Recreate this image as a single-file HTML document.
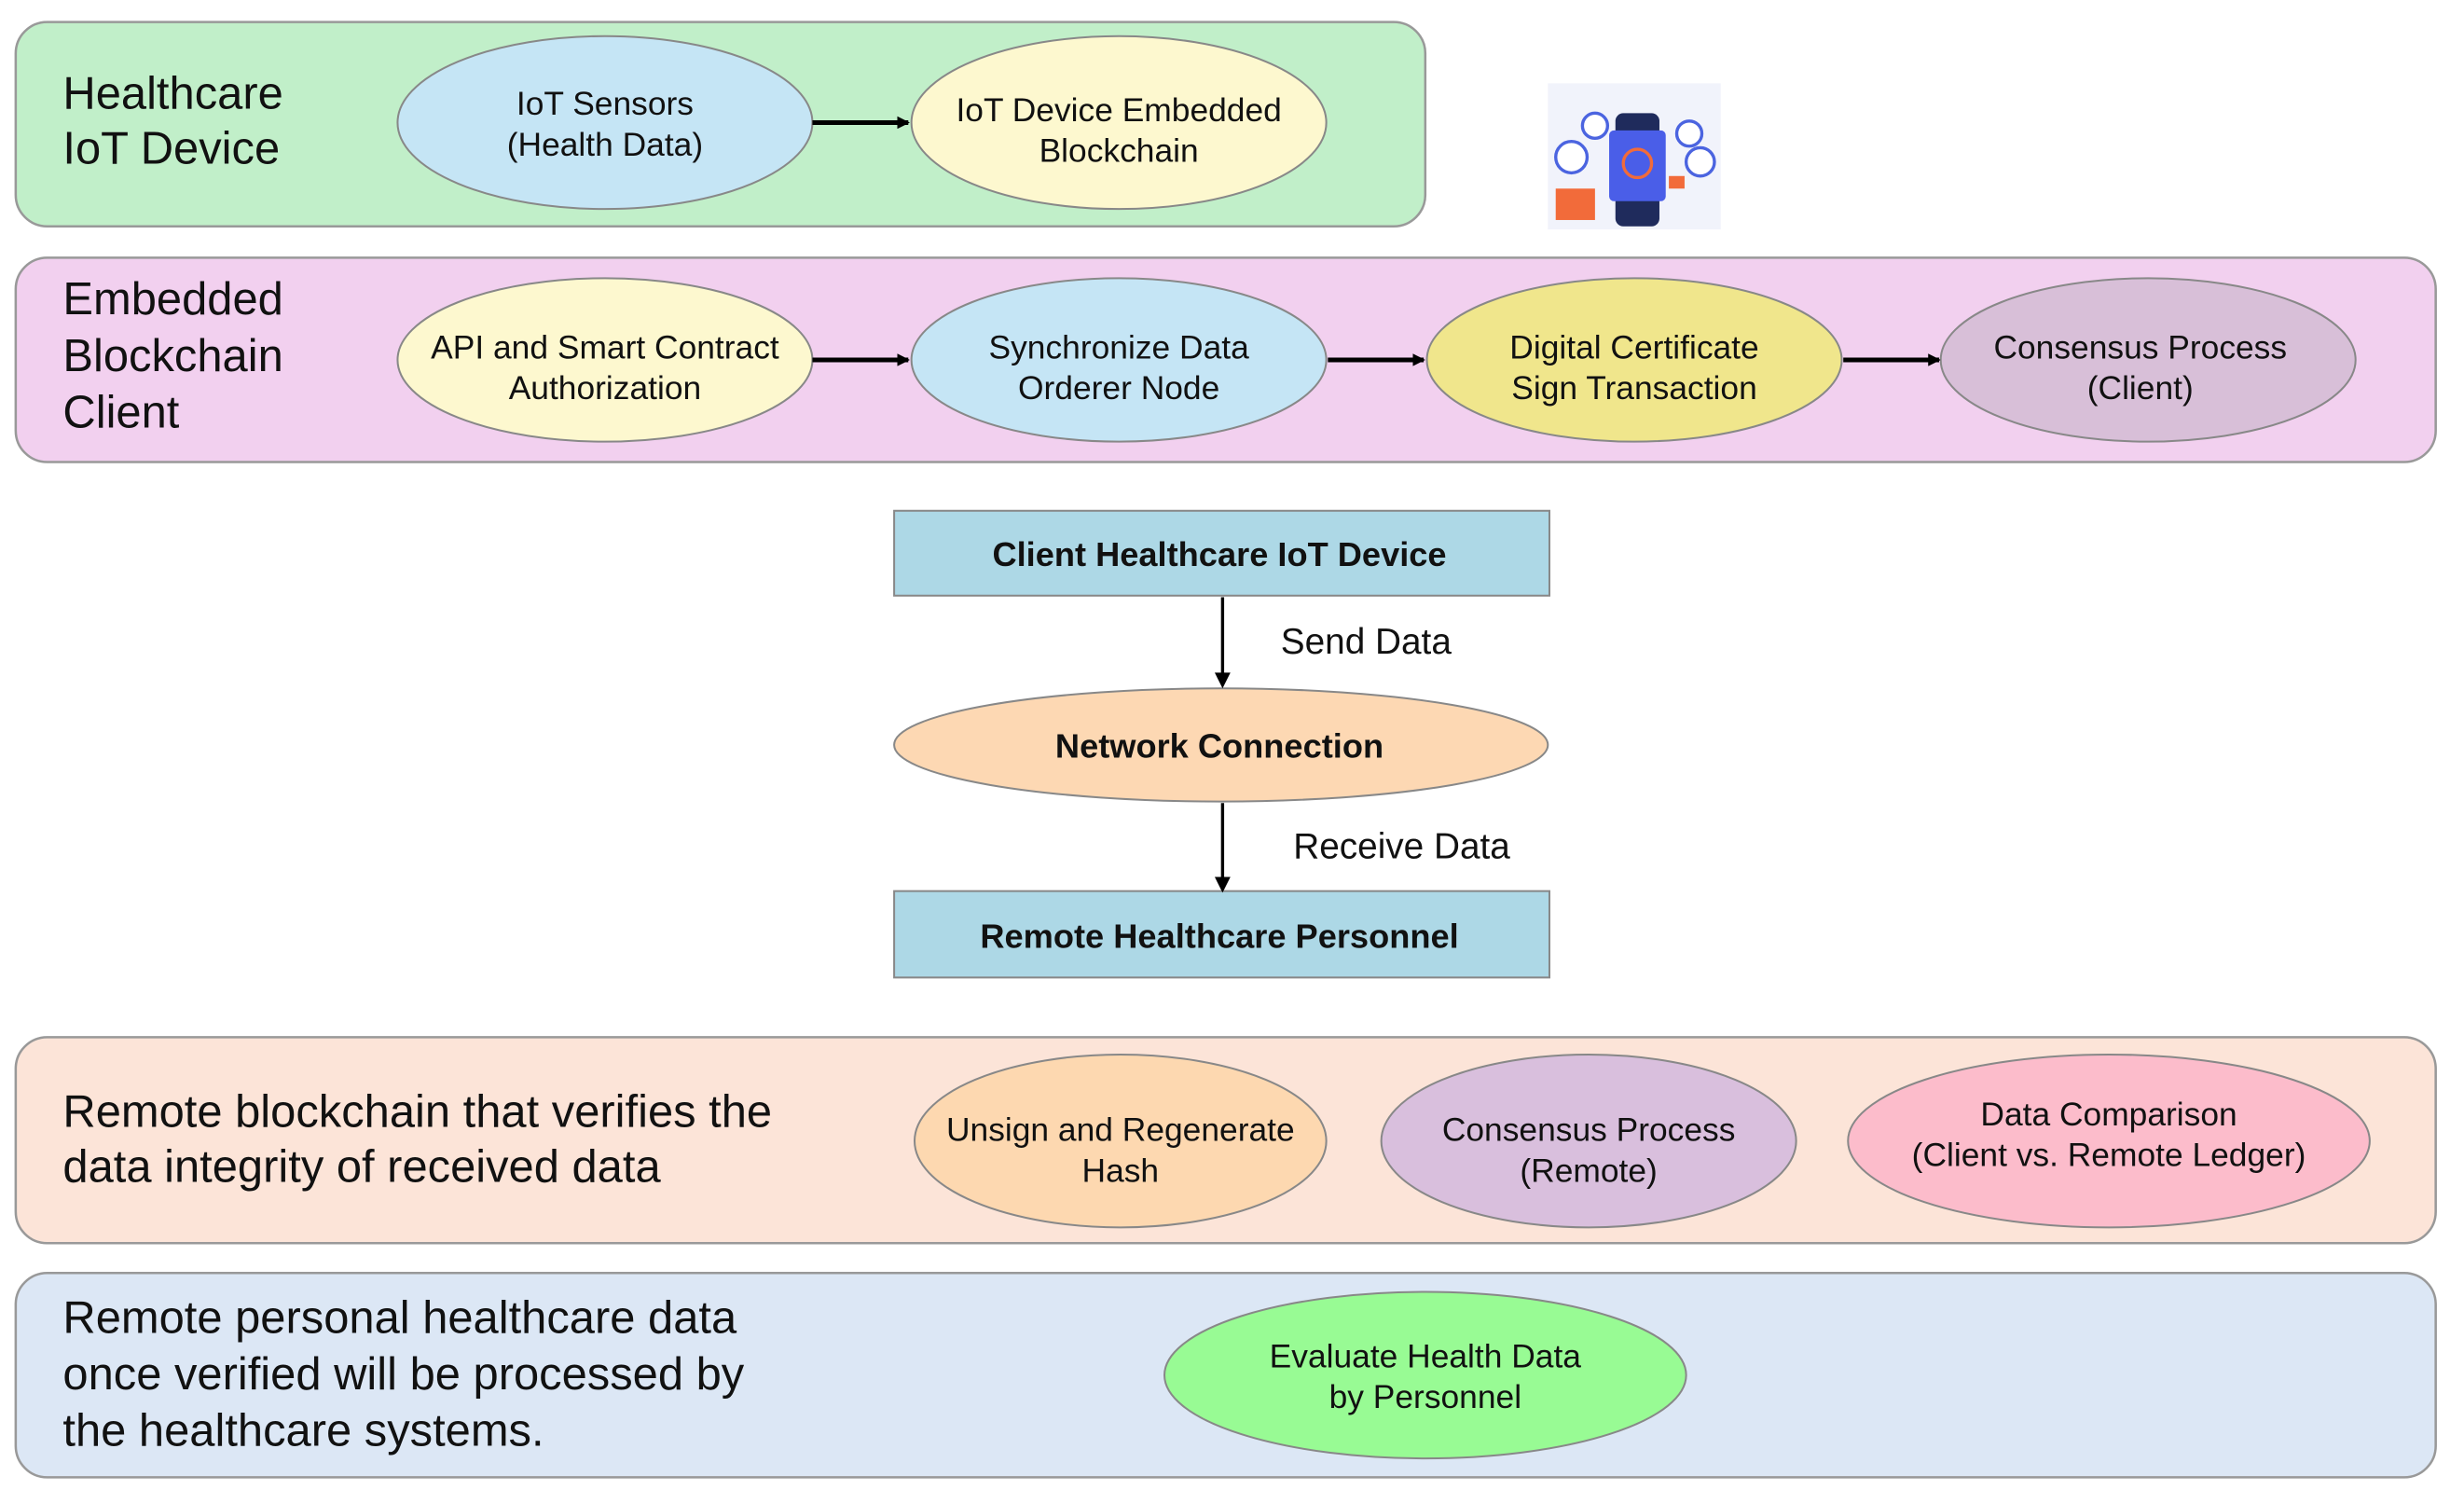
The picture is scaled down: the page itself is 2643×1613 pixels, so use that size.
<!DOCTYPE html>
<html><head><meta charset="utf-8"><style>
html,body{margin:0;padding:0;background:#fff;}
svg{display:block;}
text{font-family:"Liberation Sans",sans-serif;fill:#111;}
</style></head><body>
<svg width="2643" height="1613" viewBox="0 0 1568 957" preserveAspectRatio="none" xmlns="http://www.w3.org/2000/svg">
<defs>
<marker id="ah" markerWidth="8" markerHeight="8" refX="7" refY="4" orient="auto" markerUnits="userSpaceOnUse"><path d="M0,0 L8,4 L0,8 z" fill="#000"/></marker>
</defs>
<g stroke="#999" stroke-width="1.5">
<rect x="10" y="14" width="897" height="130" rx="20" fill="#c1efc9"/>
<rect x="10" y="164" width="1540" height="130" rx="20" fill="#f2d0ef"/>
<rect x="10" y="660" width="1540" height="131" rx="20" fill="#fce4d8"/>
<rect x="10" y="810" width="1540" height="130" rx="20" fill="#dce7f5"/>
</g>
<rect x="985" y="53" width="110" height="93" fill="#f1f3fb"/>
<circle cx="1000" cy="100" r="10" fill="#fff" stroke="#4b64e0" stroke-width="2"/>
<circle cx="1015" cy="80" r="8" fill="#fff" stroke="#4b64e0" stroke-width="2"/>
<circle cx="1075" cy="85" r="8" fill="#fff" stroke="#4b64e0" stroke-width="2"/>
<circle cx="1082" cy="103" r="9" fill="#fff" stroke="#4b64e0" stroke-width="2"/>
<rect x="990" y="120" width="25" height="20" fill="#f26b3a"/>
<rect x="1028" y="72" width="28" height="72" rx="5" fill="#1f2b5c"/>
<rect x="1024" y="83" width="36" height="45" rx="3" fill="#4a5ee8"/>
<circle cx="1042" cy="104" r="9" fill="none" stroke="#f26b3a" stroke-width="2"/>
<rect x="1062" y="112" width="10" height="8" fill="#f26b3a"/>
<g stroke="#888" stroke-width="1.2">
<ellipse cx="385" cy="78" rx="132" ry="55" fill="#c5e5f5"/>
<ellipse cx="712" cy="78" rx="132" ry="55" fill="#fdf8cf"/>
<ellipse cx="385" cy="229" rx="132" ry="52" fill="#fdf8cf"/>
<ellipse cx="712" cy="229" rx="132" ry="52" fill="#c5e5f5"/>
<ellipse cx="1040" cy="229" rx="132" ry="52" fill="#f0e68c"/>
<ellipse cx="1367" cy="229" rx="132" ry="52" fill="#d8bfd8"/>
<ellipse cx="713" cy="726" rx="131" ry="55" fill="#fdd8b0"/>
<ellipse cx="1011" cy="726" rx="132" ry="55" fill="#d9bfdd"/>
<ellipse cx="1342" cy="726" rx="166" ry="55" fill="#fcbccb"/>
<ellipse cx="907" cy="875" rx="166" ry="53" fill="#98fb94"/>
<rect x="569" y="325" width="417" height="54" fill="#add8e6"/>
<rect x="569" y="567" width="417" height="55" fill="#add8e6"/>
<ellipse cx="777" cy="474" rx="208" ry="36" fill="#fdd8b3"/>
</g>
<g stroke="#000" stroke-width="3">
<line x1="517" y1="78" x2="578" y2="78" marker-end="url(#ah)"/>
<line x1="517" y1="229" x2="578" y2="229" marker-end="url(#ah)"/>
<line x1="845" y1="229" x2="906" y2="229" marker-end="url(#ah)"/>
<line x1="1173" y1="229" x2="1234" y2="229" marker-end="url(#ah)"/>
</g>
<g stroke="#000" stroke-width="2">
<line x1="778" y1="380" x2="778" y2="430"/>
<line x1="778" y1="511" x2="778" y2="560"/>
</g>
<path d="M773,428 L778,438 L783,428 z" fill="#000"/>
<path d="M773,558 L778,568 L783,558 z" fill="#000"/>
<g font-size="29">
<text x="40" y="69">Healthcare</text>
<text x="40" y="104">IoT Device</text>
<text x="40" y="200">Embedded</text>
<text x="40" y="236">Blockchain</text>
<text x="40" y="272">Client</text>
<text x="40" y="717">Remote blockchain that verifies the</text>
<text x="40" y="752">data integrity of received data</text>
<text x="40" y="848">Remote personal healthcare data</text>
<text x="40" y="884">once verified will be processed  by</text>
<text x="40" y="920">the healthcare systems.</text>
</g>
<g font-size="21" text-anchor="middle">
<text x="385" y="73">IoT Sensors</text>
<text x="385" y="99">(Health Data)</text>
<text x="712" y="77">IoT Device Embedded</text>
<text x="712" y="103">Blockchain</text>
<text x="385" y="228">API and Smart Contract</text>
<text x="385" y="254">Authorization</text>
<text x="712" y="228">Synchronize Data</text>
<text x="712" y="254">Orderer Node</text>
<text x="1040" y="228">Digital Certificate</text>
<text x="1040" y="254">Sign Transaction</text>
<text x="1362" y="228">Consensus Process</text>
<text x="1362" y="254">(Client)</text>
<text x="713" y="726">Unsign and Regenerate</text>
<text x="713" y="752">Hash</text>
<text x="1011" y="726">Consensus Process</text>
<text x="1011" y="752">(Remote)</text>
<text x="1342" y="716">Data Comparison</text>
<text x="1342" y="742">(Client vs. Remote Ledger)</text>
<text x="907" y="870">Evaluate Health Data</text>
<text x="907" y="896">by Personnel</text>
<text x="776" y="360" font-weight="bold" font-size="21.5">Client Healthcare IoT Device</text>
<text x="776" y="482" font-weight="bold" font-size="21.5">Network Connection</text>
<text x="776" y="603" font-weight="bold" font-size="21.5">Remote Healthcare Personnel</text>
</g>
<g font-size="23">
<text x="815" y="416">Send Data</text>
<text x="823" y="546">Receive Data</text>
</g>
</svg>
</body></html>
